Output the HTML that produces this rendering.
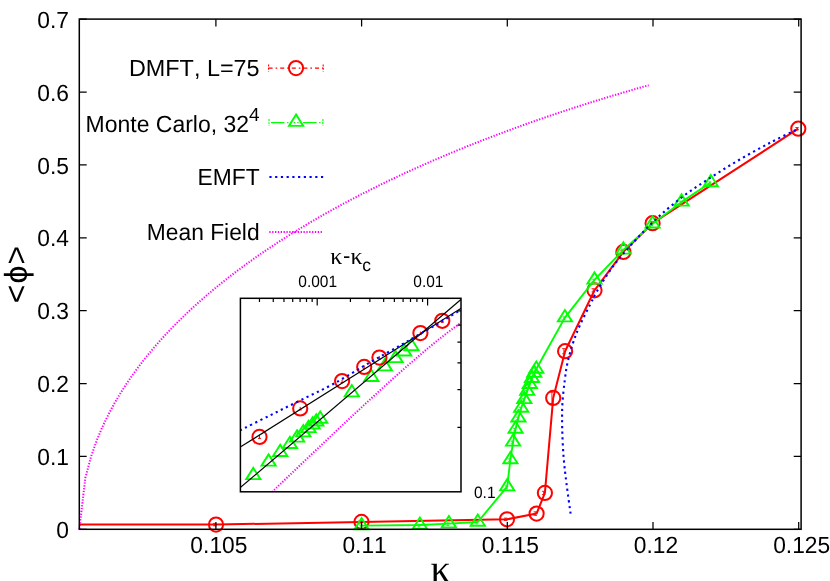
<!DOCTYPE html>
<html><head><meta charset="utf-8"><title>plot</title>
<style>html,body{margin:0;padding:0;background:#fff;overflow:hidden}body{width:830px;height:581px}</style></head>
<body>
<svg width="830" height="581" viewBox="0 0 830 581" style="display:block;font-kerning:none;text-rendering:geometricPrecision;will-change:transform;font-family:'Liberation Sans',sans-serif">
<rect x="0" y="0" width="830" height="581" fill="#fff"/>
<path d="M79.5 524.4 L216 524.6 L361.5 521.9 L507 519.3 L536.6 513.6 L544.9 492.9 L553.2 397.9 L565.1 351.2 L594.5 290.3 L623.4 251.9 L652.6 223.2 L798.3 128.7" fill="none" stroke="#ff0000" stroke-width="2" stroke-linejoin="round"/>
<circle cx="216" cy="524.6" r="7.1" fill="none" stroke="#ff0000" stroke-width="2.0"/>
<path d="M213 523.4 h3.4 M213 525.8 h3.4 M214.7 523.4 V525.8" stroke="#ff0000" stroke-width="1" fill="none" opacity="0.85"/>
<circle cx="361.5" cy="521.9" r="7.1" fill="none" stroke="#ff0000" stroke-width="2.0"/>
<path d="M358.5 520.7 h3.4 M358.5 523.1 h3.4 M360.2 520.7 V523.1" stroke="#ff0000" stroke-width="1" fill="none" opacity="0.85"/>
<circle cx="507" cy="519.3" r="7.1" fill="none" stroke="#ff0000" stroke-width="2.0"/>
<path d="M504 518.1 h3.4 M504 520.5 h3.4 M505.7 518.1 V520.5" stroke="#ff0000" stroke-width="1" fill="none" opacity="0.85"/>
<circle cx="536.6" cy="513.6" r="7.1" fill="none" stroke="#ff0000" stroke-width="2.0"/>
<path d="M533.6 511.8 h3.4 M533.6 515.4 h3.4 M535.3 511.8 V515.4" stroke="#ff0000" stroke-width="1" fill="none" opacity="0.85"/>
<circle cx="544.9" cy="492.9" r="7.1" fill="none" stroke="#ff0000" stroke-width="2.0"/>
<path d="M541.9 491.3 h3.4 M541.9 494.5 h3.4 M543.6 491.3 V494.5" stroke="#ff0000" stroke-width="1" fill="none" opacity="0.85"/>
<circle cx="553.2" cy="397.9" r="7.1" fill="none" stroke="#ff0000" stroke-width="2.0"/>
<path d="M550.2 392.3 h3.4 M550.2 403.5 h3.4 M551.9 392.3 V403.5" stroke="#ff0000" stroke-width="1" fill="none" opacity="0.85"/>
<circle cx="565.1" cy="351.2" r="7.1" fill="none" stroke="#ff0000" stroke-width="2.0"/>
<path d="M562.1 348.6 h3.4 M562.1 353.8 h3.4 M563.8 348.6 V353.8" stroke="#ff0000" stroke-width="1" fill="none" opacity="0.85"/>
<circle cx="594.5" cy="290.3" r="7.1" fill="none" stroke="#ff0000" stroke-width="2.0"/>
<path d="M591.5 288.7 h3.4 M591.5 291.9 h3.4 M593.2 288.7 V291.9" stroke="#ff0000" stroke-width="1" fill="none" opacity="0.85"/>
<circle cx="623.4" cy="251.9" r="7.1" fill="none" stroke="#ff0000" stroke-width="2.0"/>
<path d="M620.4 250.3 h3.4 M620.4 253.5 h3.4 M622.1 250.3 V253.5" stroke="#ff0000" stroke-width="1" fill="none" opacity="0.85"/>
<circle cx="652.6" cy="223.2" r="7.1" fill="none" stroke="#ff0000" stroke-width="2.0"/>
<path d="M649.6 221.8 h3.4 M649.6 224.6 h3.4 M651.3 221.8 V224.6" stroke="#ff0000" stroke-width="1" fill="none" opacity="0.85"/>
<circle cx="798.3" cy="128.7" r="7.1" fill="none" stroke="#ff0000" stroke-width="2.0"/>
<path d="M795.3 127.5 h3.4 M795.3 129.9 h3.4 M797 127.5 V129.9" stroke="#ff0000" stroke-width="1" fill="none" opacity="0.85"/>
<path d="M361.6 525.6 L419.9 525 L448.9 523.6 L477.8 522 L507.2 486.6 L510.4 459.5 L513.1 441.9 L515.6 429 L518.4 417.8 L521.2 408 L524.3 399.4 L527.2 391.1 L529.8 384.3 L532 378.2 L534.2 373.1 L536.3 369 L564.9 317.6 L594.5 279.9 L623.4 249.9 L652.6 223.7 L681.6 201.9 L710.8 182.5" fill="none" stroke="#00ff00" stroke-width="1.9" stroke-linejoin="round"/>
<path d="M361.6 518.07 L354.5 529.37 L368.7 529.37 Z" fill="none" stroke="#00ff00" stroke-width="1.9" stroke-linejoin="miter"/>
<path d="M359.1 524.9 h3.0 M359.1 527.5 h3.0 M360.6 524.9 V527.5" stroke="#00ff00" stroke-width="1" fill="none" opacity="0.85"/>
<path d="M419.9 517.47 L412.8 528.77 L427 528.77 Z" fill="none" stroke="#00ff00" stroke-width="1.9" stroke-linejoin="miter"/>
<path d="M417.4 524.3 h3.0 M417.4 526.9 h3.0 M418.9 524.3 V526.9" stroke="#00ff00" stroke-width="1" fill="none" opacity="0.85"/>
<path d="M448.9 516.07 L441.8 527.37 L456 527.37 Z" fill="none" stroke="#00ff00" stroke-width="1.9" stroke-linejoin="miter"/>
<path d="M446.4 522.9 h3.0 M446.4 525.5 h3.0 M447.9 522.9 V525.5" stroke="#00ff00" stroke-width="1" fill="none" opacity="0.85"/>
<path d="M477.8 514.47 L470.7 525.77 L484.9 525.77 Z" fill="none" stroke="#00ff00" stroke-width="1.9" stroke-linejoin="miter"/>
<path d="M475.3 521.3 h3.0 M475.3 523.9 h3.0 M476.8 521.3 V523.9" stroke="#00ff00" stroke-width="1" fill="none" opacity="0.85"/>
<path d="M507.2 479.07 L500.1 490.37 L514.3 490.37 Z" fill="none" stroke="#00ff00" stroke-width="1.9" stroke-linejoin="miter"/>
<path d="M504.7 485.9 h3.0 M504.7 488.5 h3.0 M506.2 485.9 V488.5" stroke="#00ff00" stroke-width="1" fill="none" opacity="0.85"/>
<path d="M510.4 451.97 L503.3 463.27 L517.5 463.27 Z" fill="none" stroke="#00ff00" stroke-width="1.9" stroke-linejoin="miter"/>
<path d="M507.9 458.8 h3.0 M507.9 461.4 h3.0 M509.4 458.8 V461.4" stroke="#00ff00" stroke-width="1" fill="none" opacity="0.85"/>
<path d="M513.1 434.37 L506 445.67 L520.2 445.67 Z" fill="none" stroke="#00ff00" stroke-width="1.9" stroke-linejoin="miter"/>
<path d="M510.6 441.2 h3.0 M510.6 443.8 h3.0 M512.1 441.2 V443.8" stroke="#00ff00" stroke-width="1" fill="none" opacity="0.85"/>
<path d="M515.6 421.47 L508.5 432.77 L522.7 432.77 Z" fill="none" stroke="#00ff00" stroke-width="1.9" stroke-linejoin="miter"/>
<path d="M513.1 428.3 h3.0 M513.1 430.9 h3.0 M514.6 428.3 V430.9" stroke="#00ff00" stroke-width="1" fill="none" opacity="0.85"/>
<path d="M518.4 410.27 L511.3 421.57 L525.5 421.57 Z" fill="none" stroke="#00ff00" stroke-width="1.9" stroke-linejoin="miter"/>
<path d="M515.9 417.1 h3.0 M515.9 419.7 h3.0 M517.4 417.1 V419.7" stroke="#00ff00" stroke-width="1" fill="none" opacity="0.85"/>
<path d="M521.2 400.47 L514.1 411.77 L528.3 411.77 Z" fill="none" stroke="#00ff00" stroke-width="1.9" stroke-linejoin="miter"/>
<path d="M518.7 407.3 h3.0 M518.7 409.9 h3.0 M520.2 407.3 V409.9" stroke="#00ff00" stroke-width="1" fill="none" opacity="0.85"/>
<path d="M524.3 391.87 L517.2 403.17 L531.4 403.17 Z" fill="none" stroke="#00ff00" stroke-width="1.9" stroke-linejoin="miter"/>
<path d="M521.8 398.7 h3.0 M521.8 401.3 h3.0 M523.3 398.7 V401.3" stroke="#00ff00" stroke-width="1" fill="none" opacity="0.85"/>
<path d="M527.2 383.57 L520.1 394.87 L534.3 394.87 Z" fill="none" stroke="#00ff00" stroke-width="1.9" stroke-linejoin="miter"/>
<path d="M524.7 390.4 h3.0 M524.7 393 h3.0 M526.2 390.4 V393" stroke="#00ff00" stroke-width="1" fill="none" opacity="0.85"/>
<path d="M529.8 376.77 L522.7 388.07 L536.9 388.07 Z" fill="none" stroke="#00ff00" stroke-width="1.9" stroke-linejoin="miter"/>
<path d="M527.3 383.6 h3.0 M527.3 386.2 h3.0 M528.8 383.6 V386.2" stroke="#00ff00" stroke-width="1" fill="none" opacity="0.85"/>
<path d="M532 370.67 L524.9 381.97 L539.1 381.97 Z" fill="none" stroke="#00ff00" stroke-width="1.9" stroke-linejoin="miter"/>
<path d="M529.5 377.5 h3.0 M529.5 380.1 h3.0 M531 377.5 V380.1" stroke="#00ff00" stroke-width="1" fill="none" opacity="0.85"/>
<path d="M534.2 365.57 L527.1 376.87 L541.3 376.87 Z" fill="none" stroke="#00ff00" stroke-width="1.9" stroke-linejoin="miter"/>
<path d="M531.7 372.4 h3.0 M531.7 375 h3.0 M533.2 372.4 V375" stroke="#00ff00" stroke-width="1" fill="none" opacity="0.85"/>
<path d="M536.3 361.47 L529.2 372.77 L543.4 372.77 Z" fill="none" stroke="#00ff00" stroke-width="1.9" stroke-linejoin="miter"/>
<path d="M533.8 368.3 h3.0 M533.8 370.9 h3.0 M535.3 368.3 V370.9" stroke="#00ff00" stroke-width="1" fill="none" opacity="0.85"/>
<path d="M564.9 310.07 L557.8 321.37 L572 321.37 Z" fill="none" stroke="#00ff00" stroke-width="1.9" stroke-linejoin="miter"/>
<path d="M562.4 316.9 h3.0 M562.4 319.5 h3.0 M563.9 316.9 V319.5" stroke="#00ff00" stroke-width="1" fill="none" opacity="0.85"/>
<path d="M594.5 272.37 L587.4 283.67 L601.6 283.67 Z" fill="none" stroke="#00ff00" stroke-width="1.9" stroke-linejoin="miter"/>
<path d="M592 279.2 h3.0 M592 281.8 h3.0 M593.5 279.2 V281.8" stroke="#00ff00" stroke-width="1" fill="none" opacity="0.85"/>
<path d="M623.4 242.37 L616.3 253.67 L630.5 253.67 Z" fill="none" stroke="#00ff00" stroke-width="1.9" stroke-linejoin="miter"/>
<path d="M620.9 249.2 h3.0 M620.9 251.8 h3.0 M622.4 249.2 V251.8" stroke="#00ff00" stroke-width="1" fill="none" opacity="0.85"/>
<path d="M652.6 216.17 L645.5 227.47 L659.7 227.47 Z" fill="none" stroke="#00ff00" stroke-width="1.9" stroke-linejoin="miter"/>
<path d="M650.1 223 h3.0 M650.1 225.6 h3.0 M651.6 223 V225.6" stroke="#00ff00" stroke-width="1" fill="none" opacity="0.85"/>
<path d="M681.6 194.37 L674.5 205.67 L688.7 205.67 Z" fill="none" stroke="#00ff00" stroke-width="1.9" stroke-linejoin="miter"/>
<path d="M679.1 201.2 h3.0 M679.1 203.8 h3.0 M680.6 201.2 V203.8" stroke="#00ff00" stroke-width="1" fill="none" opacity="0.85"/>
<path d="M710.8 174.97 L703.7 186.27 L717.9 186.27 Z" fill="none" stroke="#00ff00" stroke-width="1.9" stroke-linejoin="miter"/>
<path d="M708.3 181.8 h3.0 M708.3 184.4 h3.0 M709.8 181.8 V184.4" stroke="#00ff00" stroke-width="1" fill="none" opacity="0.85"/>
<path d="M570.6 513.7 C569.92 508.68 567.67 493.03 566.5 483.6 C565.33 474.17 564.32 466.33 563.6 457.1 C562.88 447.87 562.4 437.03 562.2 428.2 C562 419.37 561.97 412.13 562.4 404.1 C562.83 396.07 563.93 386.95 564.8 380 C565.67 373.05 566.23 368.57 567.6 362.4 C568.97 356.23 570.93 349.23 573 343 C575.07 336.77 576.77 332.17 580 325 C583.23 317.83 589.98 304.92 592.4 300 C594.82 295.08 591.9 299.92 594.5 295.5 C597.1 291.08 603.18 280.48 608 273.5 C612.82 266.52 615.97 262.12 623.4 253.6 C630.83 245.08 642.9 231.75 652.6 222.4 C662.3 213.05 671.9 204.98 681.6 197.5 C691.3 190.02 701.1 183.83 710.8 177.5 C720.5 171.17 729.93 165.28 739.8 159.5 C749.67 153.72 760.25 147.93 770 142.8 C779.75 137.67 793.58 131.05 798.3 128.7" fill="none" stroke="#0000ff" stroke-width="2.1" stroke-dasharray="2.2 3.53"/>
<path d="M79.4 529 L85.3 478.04 L91.1 456.39 L96.9 440.01 L102.7 426.32 L108.5 414.36 L114.3 403.6 L120.1 393.78 L125.9 384.68 L131.7 376.18 L137.5 368.18 L143.3 360.61 L149.1 353.42 L154.9 346.55 L160.7 339.97 L166.5 333.65 L172.3 327.56 L178.1 321.69 L183.9 316.02 L189.7 310.52 L195.5 305.19 L201.3 300.02 L207.1 294.99 L212.9 290.09 L218.7 285.32 L224.5 280.67 L230.3 276.13 L236.1 271.7 L241.9 267.37 L247.7 263.13 L253.5 258.98 L259.3 254.92 L265.1 250.94 L270.9 247.04 L276.7 243.21 L282.5 239.45 L288.3 235.77 L294.1 232.15 L299.9 228.6 L305.7 225.1 L311.5 221.67 L317.3 218.29 L323.1 214.97 L328.9 211.71 L334.7 208.49 L340.5 205.32 L346.3 202.21 L352.1 199.14 L357.9 196.12 L363.7 193.14 L369.5 190.2 L375.3 187.31 L381.1 184.46 L386.9 181.65 L392.7 178.87 L398.5 176.14 L404.3 173.44 L410.1 170.78 L415.9 168.15 L421.7 165.56 L427.5 163 L433.3 160.48 L439.1 157.99 L444.9 155.52 L450.7 153.09 L456.5 150.7 L462.3 148.33 L468.1 145.98 L473.9 143.67 L479.7 141.39 L485.5 139.13 L491.3 136.9 L497.1 134.7 L502.9 132.52 L508.7 130.37 L514.5 128.24 L520.3 126.14 L526.1 124.06 L531.9 122.01 L537.7 119.98 L543.5 117.97 L549.3 115.99 L555.1 114.03 L560.9 112.09 L566.7 110.17 L572.5 108.27 L578.3 106.4 L584.1 104.54 L589.9 102.71 L595.7 100.9 L601.5 99.1 L607.3 97.33 L613.1 95.57 L618.9 93.84 L624.7 92.12 L630.5 90.42 L636.3 88.75 L642.1 87.08 L647.9 85.44 L648.7 85.22" fill="none" stroke="#ff00ff" stroke-width="2" stroke-dasharray="1.3 1.55"/>
<rect x="79.3" y="19.1" width="721.8" height="510.2" fill="none" stroke="#000" stroke-width="1.5"/>
<path d="M79.3 529.3 h7.4 M801.1 529.3 h-7.4 M79.3 456.42 h7.4 M801.1 456.42 h-7.4 M79.3 383.54 h7.4 M801.1 383.54 h-7.4 M79.3 310.66 h7.4 M801.1 310.66 h-7.4 M79.3 237.78 h7.4 M801.1 237.78 h-7.4 M79.3 164.9 h7.4 M801.1 164.9 h-7.4 M79.3 92.02 h7.4 M801.1 92.02 h-7.4 M79.3 19.14 h7.4 M801.1 19.14 h-7.4 M215.9 529.3 v-7.4 M215.9 19.1 v7.4 M361.6 529.3 v-7.4 M361.6 19.1 v7.4 M507.3 529.3 v-7.4 M507.3 19.1 v7.4 M653 529.3 v-7.4 M653 19.1 v7.4 M798.7 529.3 v-7.4 M798.7 19.1 v7.4" stroke="#000" stroke-width="1.25" fill="none"/>
<text transform="translate(69 538) scale(0.975 1)" font-size="23.4" text-anchor="end">0</text>
<text transform="translate(69 465.12) scale(0.975 1)" font-size="23.4" text-anchor="end">0.1</text>
<text transform="translate(69 392.24) scale(0.975 1)" font-size="23.4" text-anchor="end">0.2</text>
<text transform="translate(69 319.36) scale(0.975 1)" font-size="23.4" text-anchor="end">0.3</text>
<text transform="translate(69 246.48) scale(0.975 1)" font-size="23.4" text-anchor="end">0.4</text>
<text transform="translate(69 173.6) scale(0.975 1)" font-size="23.4" text-anchor="end">0.5</text>
<text transform="translate(69 100.72) scale(0.975 1)" font-size="23.4" text-anchor="end">0.6</text>
<text transform="translate(69 27.84) scale(0.975 1)" font-size="23.4" text-anchor="end">0.7</text>
<text transform="translate(218.9 553.2) scale(0.975 1)" font-size="23.4" text-anchor="middle">0.105</text>
<text transform="translate(364.6 553.2) scale(0.975 1)" font-size="23.4" text-anchor="middle">0.11</text>
<text transform="translate(510.3 553.2) scale(0.975 1)" font-size="23.4" text-anchor="middle">0.115</text>
<text transform="translate(656 553.2) scale(0.975 1)" font-size="23.4" text-anchor="middle">0.12</text>
<text transform="translate(801.7 553.2) scale(0.975 1)" font-size="23.4" text-anchor="middle">0.125</text>
<text x="440.7" y="582" font-size="40" text-anchor="middle" fill="#000" font-family="'Liberation Serif','DejaVu Serif',serif">κ</text>
<text transform="translate(26.9,274.5) rotate(-90)" font-size="32" text-anchor="middle"><tspan x="-19.5">&lt;</tspan><tspan x="0" font-family="'Liberation Sans','DejaVu Sans',sans-serif">ϕ</tspan><tspan x="19.3">&gt;</tspan></text>
<text x="259.6" y="76.1" font-size="23.4" text-anchor="end">DMFT, L=75</text>
<text transform="translate(249 132) scale(0.982 1)" font-size="23.4" text-anchor="end">Monte Carlo, 32</text>
<text x="259.6" y="121.2" font-size="19" text-anchor="end">4</text>
<text transform="translate(259.6 184.8) scale(0.975 1)" font-size="23.4" text-anchor="end">EMFT</text>
<text transform="translate(259.6 239.7) scale(0.975 1)" font-size="23.4" text-anchor="end">Mean Field</text>
<path d="M268.6 68.1 H323.2" stroke="#ff0000" stroke-width="1.3" stroke-dasharray="4 3 1.6 3" fill="none"/>
<path d="M268.6 64.6 v7 M323.2 64.6 v7" stroke="#ff0000" stroke-width="1.1" stroke-dasharray="2 1.2" fill="none"/>
<circle cx="296" cy="68.1" r="7.1" fill="none" stroke="#ff0000" stroke-width="2.0"/>
<path d="M270.9 122.6 H323" stroke="#00ff00" stroke-width="1.3" stroke-dasharray="13.5 2.6 1.4 2 1.4 2 1.4 2 1.4 4.4" fill="none"/>
<path d="M269 119.1 v7 M322.9 119.1 v7" stroke="#00ff00" stroke-width="1.1" stroke-dasharray="2 1.2" fill="none"/>
<path d="M296.1 114.57 L289 125.87 L303.2 125.87 Z" fill="none" stroke="#00ff00" stroke-width="1.9" stroke-linejoin="miter"/>
<path d="M269.4 177.0 H323.6" stroke="#0000ff" stroke-width="2.1" stroke-dasharray="2.2 3.53" fill="none"/>
<path d="M269.3 232.0 H323.2" stroke="#ff00ff" stroke-width="2" stroke-dasharray="1.3 1.55" fill="none"/>
<defs><clipPath id="ic"><rect x="240.4" y="298.3" width="220.6" height="193.5"/></clipPath></defs>
<g clip-path="url(#ic)">
<path d="M253.3 467.87 L246.2 479.17 L260.4 479.17 Z" fill="none" stroke="#00ff00" stroke-width="1.9" stroke-linejoin="miter"/>
<path d="M268.6 454.37 L261.5 465.67 L275.7 465.67 Z" fill="none" stroke="#00ff00" stroke-width="1.9" stroke-linejoin="miter"/>
<path d="M280.2 444.67 L273.1 455.97 L287.3 455.97 Z" fill="none" stroke="#00ff00" stroke-width="1.9" stroke-linejoin="miter"/>
<path d="M289.9 436.77 L282.8 448.07 L297 448.07 Z" fill="none" stroke="#00ff00" stroke-width="1.9" stroke-linejoin="miter"/>
<path d="M297.1 430.37 L290 441.67 L304.2 441.67 Z" fill="none" stroke="#00ff00" stroke-width="1.9" stroke-linejoin="miter"/>
<path d="M303.3 425.07 L296.2 436.37 L310.4 436.37 Z" fill="none" stroke="#00ff00" stroke-width="1.9" stroke-linejoin="miter"/>
<path d="M308.5 420.87 L301.4 432.17 L315.6 432.17 Z" fill="none" stroke="#00ff00" stroke-width="1.9" stroke-linejoin="miter"/>
<path d="M312.6 417.27 L305.5 428.57 L319.7 428.57 Z" fill="none" stroke="#00ff00" stroke-width="1.9" stroke-linejoin="miter"/>
<path d="M316.3 414.17 L309.2 425.47 L323.4 425.47 Z" fill="none" stroke="#00ff00" stroke-width="1.9" stroke-linejoin="miter"/>
<path d="M320.2 411.47 L313.1 422.77 L327.3 422.77 Z" fill="none" stroke="#00ff00" stroke-width="1.9" stroke-linejoin="miter"/>
<path d="M351.8 385.07 L344.7 396.37 L358.9 396.37 Z" fill="none" stroke="#00ff00" stroke-width="1.9" stroke-linejoin="miter"/>
<path d="M371.3 369.77 L364.2 381.07 L378.4 381.07 Z" fill="none" stroke="#00ff00" stroke-width="1.9" stroke-linejoin="miter"/>
<path d="M384.8 359.07 L377.7 370.37 L391.9 370.37 Z" fill="none" stroke="#00ff00" stroke-width="1.9" stroke-linejoin="miter"/>
<path d="M395.5 350.87 L388.4 362.17 L402.6 362.17 Z" fill="none" stroke="#00ff00" stroke-width="1.9" stroke-linejoin="miter"/>
<path d="M404.2 344.27 L397.1 355.57 L411.3 355.57 Z" fill="none" stroke="#00ff00" stroke-width="1.9" stroke-linejoin="miter"/>
<path d="M411.5 338.97 L404.4 350.27 L418.6 350.27 Z" fill="none" stroke="#00ff00" stroke-width="1.9" stroke-linejoin="miter"/>
<circle cx="259.5" cy="436.9" r="7.1" fill="none" stroke="#ff0000" stroke-width="2.0"/><path d="M259.5 435.4 v3 M258 438.4 h3" stroke="#ff0000" stroke-width="1" fill="none"/>
<circle cx="300.2" cy="408.4" r="7.1" fill="none" stroke="#ff0000" stroke-width="2.0"/><path d="M300.2 406.9 v3 M298.7 409.9 h3" stroke="#ff0000" stroke-width="1" fill="none"/>
<circle cx="342.1" cy="381.1" r="7.1" fill="none" stroke="#ff0000" stroke-width="2.0"/><path d="M342.1 379.6 v3 M340.6 382.6 h3" stroke="#ff0000" stroke-width="1" fill="none"/>
<circle cx="364.2" cy="366.9" r="7.1" fill="none" stroke="#ff0000" stroke-width="2.0"/><path d="M364.2 365.4 v3 M362.7 368.4 h3" stroke="#ff0000" stroke-width="1" fill="none"/>
<circle cx="379.4" cy="357.6" r="7.1" fill="none" stroke="#ff0000" stroke-width="2.0"/><path d="M379.4 356.1 v3 M377.9 359.1 h3" stroke="#ff0000" stroke-width="1" fill="none"/>
<circle cx="420.4" cy="333.1" r="7.1" fill="none" stroke="#ff0000" stroke-width="2.0"/><path d="M420.4 331.6 v3 M418.9 334.6 h3" stroke="#ff0000" stroke-width="1" fill="none"/>
<circle cx="442.3" cy="320.8" r="7.1" fill="none" stroke="#ff0000" stroke-width="2.0"/><path d="M442.3 319.3 v3 M440.8 322.3 h3" stroke="#ff0000" stroke-width="1" fill="none"/>
<path d="M240.3 447.1 L461.2 308.3" stroke="#000" stroke-width="1.15" fill="none"/>
<path d="M240.3 487.6 L461.2 299.3" stroke="#000" stroke-width="1.15" fill="none"/>
<path d="M239.9 430.4 C244.92 427.9 259.95 420.4 270 415.4 C280.05 410.4 289.67 405.63 300.2 400.4 C310.73 395.17 321.57 390.33 333.2 384 C344.83 377.67 358.87 368.8 370 362.4 C381.13 356 391.7 350.32 400 345.6 C408.3 340.88 413.13 337.97 419.8 334.1 C426.47 330.23 433.05 326.53 440 322.4 C446.95 318.27 457.92 311.48 461.5 309.3" fill="none" stroke="#0000ff" stroke-width="2.1" stroke-dasharray="2.2 3.53"/>
<path d="M228.88 533.5 L234.4 528.18 L239.92 522.87 L245.44 517.56 L250.96 512.26 L256.48 506.96 L262 501.66 L267.52 496.37 L273.04 491.08 L278.56 485.79 L284.08 480.51 L289.6 475.24 L295.12 469.97 L300.64 464.71 L306.16 459.46 L311.68 454.22 L317.2 448.98 L322.72 443.76 L328.24 438.54 L333.76 433.34 L339.28 428.15 L344.8 422.97 L350.32 417.81 L355.84 412.66 L361.36 407.54 L366.88 402.43 L372.4 397.35 L377.92 392.3 L383.44 387.27 L388.96 382.27 L394.48 377.31 L400 372.39 L405.52 367.51 L411.04 362.68 L416.56 357.91 L422.08 353.2 L427.6 348.57 L433.12 344.01 L438.64 339.55 L444.16 335.2 L449.68 330.97 L455.2 326.88 L460.72 322.96 L466.24 319.24 L471.76 315.75" fill="none" stroke="#ff00ff" stroke-width="2" stroke-dasharray="1.3 1.55"/>
</g>
<rect x="240.4" y="298.3" width="220.6" height="193.5" fill="none" stroke="#000" stroke-width="1.5"/>
<path d="M259.47 298.3 v3.6 M273.27 298.3 v3.6 M283.97 298.3 v3.6 M292.71 298.3 v3.6 M300.1 298.3 v3.6 M306.5 298.3 v3.6 M312.15 298.3 v3.6 M317.2 298.3 v7.2 M350.43 298.3 v3.6 M369.87 298.3 v3.6 M383.67 298.3 v3.6 M394.37 298.3 v3.6 M403.11 298.3 v3.6 M410.5 298.3 v3.6 M416.9 298.3 v3.6 M422.55 298.3 v3.6 M427.6 298.3 v7.2 M461 427.32 h-3.6 M461 389.6 h-3.6 M461 362.84 h-3.6 M461 342.08 h-3.6 M461 325.12 h-3.6 M461 310.78 h-3.6" stroke="#000" stroke-width="1.2" fill="none"/>
<text transform="translate(317.7 287.4) scale(0.945 1)" font-size="16.4" text-anchor="middle">0.001</text>
<text transform="translate(428.4 287.4) scale(0.945 1)" font-size="16.4" text-anchor="middle">0.01</text>
<text transform="translate(474 497.6) scale(0.945 1)" font-size="16.4">0.1</text>
<text x="336.3" y="263.5" font-size="24" text-anchor="middle" fill="#000" font-family="'Liberation Serif','DejaVu Serif',serif">κ</text>
<text x="343" y="263.4" font-size="22">-</text>
<text x="356.5" y="263.5" font-size="24" text-anchor="middle" fill="#000" font-family="'Liberation Serif','DejaVu Serif',serif">κ</text>
<text x="362.3" y="270.6" font-size="17.5">c</text>
</svg>
</body></html>
